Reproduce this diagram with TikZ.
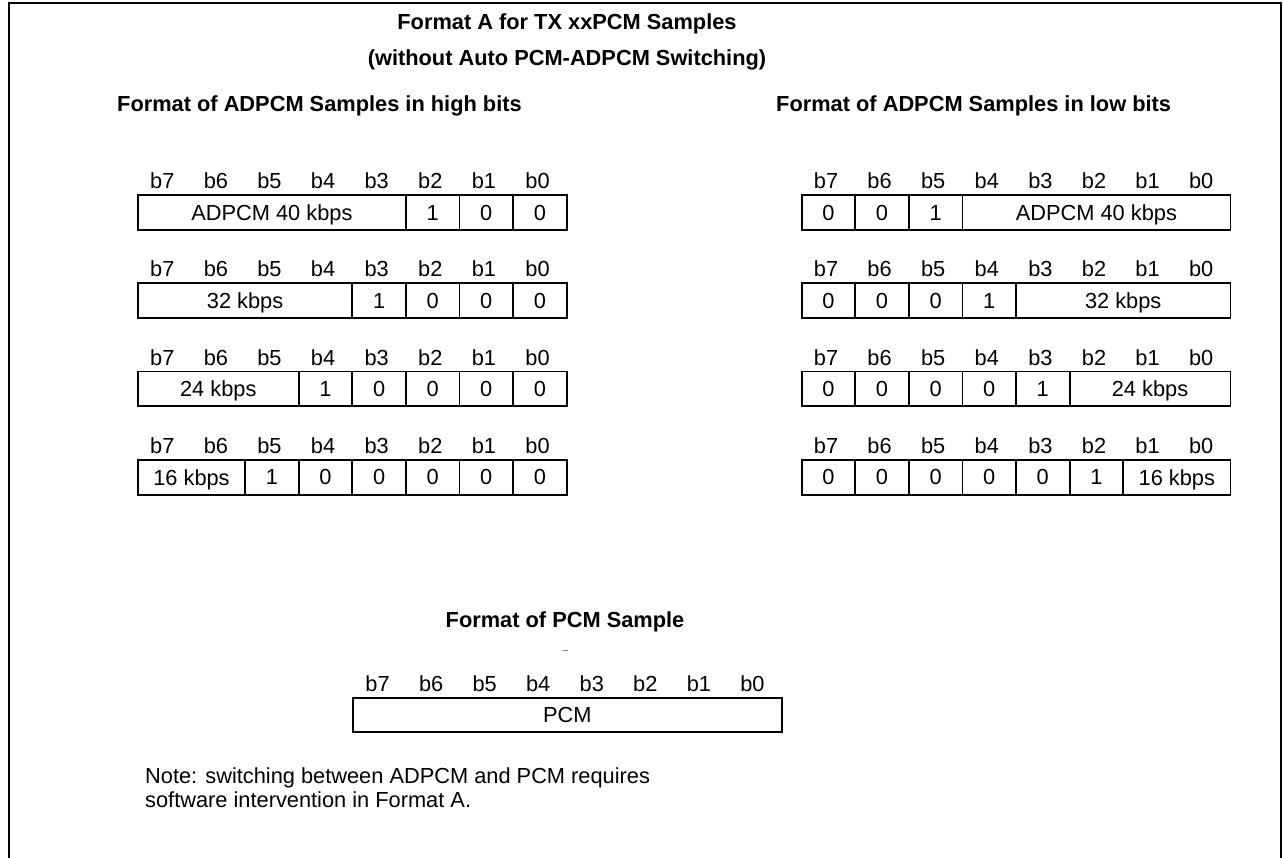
\documentclass[tikz,border=0pt]{standalone}
\usepackage{fontspec}
\setmainfont{Liberation Sans}
\begin{document}
\begin{tikzpicture}[x=1pt,y=-1pt,
  txt/.style={font=\fontsize{21.8}{26}\selectfont, inner sep=0pt},
  bold/.style={font=\fontsize{21.8}{26}\selectfont\bfseries, inner sep=0pt},
  cell/.style={draw, line width=1.8pt, inner sep=0pt, minimum height=34.7pt, anchor=north west, font=\fontsize{21.8}{26}\selectfont, text depth=0pt}
]
\useasboundingbox (0,0) rectangle (1283,858);
\draw[line width=2.5pt] (9,858) -- (9,3) -- (1281,3) -- (1281,858);

\node[bold, anchor=base] (t1) at (567,30) {Format A for TX xxPCM Samples};
\node[bold, anchor=base] (t2) at (567,66) {(without Auto PCM-ADPCM Switching)};
\node[bold, anchor=base west] (hh) at (117,112) {Format of ADPCM Samples in high bits};
\node[bold, anchor=base west] (hl) at (776,112) {Format of ADPCM Samples in low bits};

% bit labels
\foreach \r/\yt in {1/194.3,2/282.5,3/370.7,4/459} {
  \foreach \b [count=\i from 0] in {7,6,5,4,3,2,1,0} {
    \node[txt, anchor=base] (L\r b\b) at ({137+53.6*(\i+0.5)-1.5},{\yt-5.5}) {b\b};
    \node[txt, anchor=base] (R\r b\b) at ({800.7+53.6*(\i+0.5)-1.5},{\yt-5.5}) {b\b};
  }
}

% left table (high bits)
\node[cell, minimum width={5*53.6pt}] (L1a) at (137,194.3) {ADPCM 40 kbps};
\node[cell, minimum width=53.6pt] (L1b) at ({137+5*53.6},194.3) {1};
\node[cell, minimum width=53.6pt] (L1c) at ({137+6*53.6},194.3) {0};
\node[cell, minimum width=53.6pt] (L1d) at ({137+7*53.6},194.3) {0};

\node[cell, minimum width={4*53.6pt}] (L2a) at (137,282.5) {32 kbps};
\node[cell, minimum width=53.6pt] (L2b) at ({137+4*53.6},282.5) {1};
\node[cell, minimum width=53.6pt] (L2c) at ({137+5*53.6},282.5) {0};
\node[cell, minimum width=53.6pt] (L2d) at ({137+6*53.6},282.5) {0};
\node[cell, minimum width=53.6pt] (L2e) at ({137+7*53.6},282.5) {0};

\node[cell, minimum width={3*53.6pt}] (L3a) at (137,370.7) {24 kbps};
\node[cell, minimum width=53.6pt] (L3b) at ({137+3*53.6},370.7) {1};
\node[cell, minimum width=53.6pt] (L3c) at ({137+4*53.6},370.7) {0};
\node[cell, minimum width=53.6pt] (L3d) at ({137+5*53.6},370.7) {0};
\node[cell, minimum width=53.6pt] (L3e) at ({137+6*53.6},370.7) {0};
\node[cell, minimum width=53.6pt] (L3f) at ({137+7*53.6},370.7) {0};

\node[cell, minimum width={2*53.6pt}] (L4a) at (137,459) {16 kbps};
\node[cell, minimum width=53.6pt] (L4b) at ({137+2*53.6},459) {1};
\node[cell, minimum width=53.6pt] (L4c) at ({137+3*53.6},459) {0};
\node[cell, minimum width=53.6pt] (L4d) at ({137+4*53.6},459) {0};
\node[cell, minimum width=53.6pt] (L4e) at ({137+5*53.6},459) {0};
\node[cell, minimum width=53.6pt] (L4f) at ({137+6*53.6},459) {0};
\node[cell, minimum width=53.6pt] (L4g) at ({137+7*53.6},459) {0};

% right table (low bits)
\node[cell, minimum width=53.6pt] (R1a) at (800.7,194.3) {0};
\node[cell, minimum width=53.6pt] (R1b) at ({800.7+53.6},194.3) {0};
\node[cell, minimum width=53.6pt] (R1c) at ({800.7+2*53.6},194.3) {1};
\node[cell, minimum width={5*53.6pt}] (R1d) at ({800.7+3*53.6},194.3) {ADPCM 40 kbps};

\node[cell, minimum width=53.6pt] (R2a) at (800.7,282.5) {0};
\node[cell, minimum width=53.6pt] (R2b) at ({800.7+53.6},282.5) {0};
\node[cell, minimum width=53.6pt] (R2c) at ({800.7+2*53.6},282.5) {0};
\node[cell, minimum width=53.6pt] (R2d) at ({800.7+3*53.6},282.5) {1};
\node[cell, minimum width={4*53.6pt}] (R2e) at ({800.7+4*53.6},282.5) {32 kbps};

\node[cell, minimum width=53.6pt] (R3a) at (800.7,370.7) {0};
\node[cell, minimum width=53.6pt] (R3b) at ({800.7+53.6},370.7) {0};
\node[cell, minimum width=53.6pt] (R3c) at ({800.7+2*53.6},370.7) {0};
\node[cell, minimum width=53.6pt] (R3d) at ({800.7+3*53.6},370.7) {0};
\node[cell, minimum width=53.6pt] (R3e) at ({800.7+4*53.6},370.7) {1};
\node[cell, minimum width={3*53.6pt}] (R3f) at ({800.7+5*53.6},370.7) {24 kbps};

\node[cell, minimum width=53.6pt] (R4a) at (800.7,459) {0};
\node[cell, minimum width=53.6pt] (R4b) at ({800.7+53.6},459) {0};
\node[cell, minimum width=53.6pt] (R4c) at ({800.7+2*53.6},459) {0};
\node[cell, minimum width=53.6pt] (R4d) at ({800.7+3*53.6},459) {0};
\node[cell, minimum width=53.6pt] (R4e) at ({800.7+4*53.6},459) {0};
\node[cell, minimum width=53.6pt] (R4f) at ({800.7+5*53.6},459) {1};
\node[cell, minimum width={2*53.6pt}] (R4g) at ({800.7+6*53.6},459) {16 kbps};

% PCM
\node[bold, anchor=base] (hp) at (565,627) {Format of PCM Sample};
\coordinate (dA) at (563,650);
\coordinate (dB) at (568,650);
\draw[gray, line width=0.8pt] (dA) -- (dB);
\foreach \b [count=\i from 0] in {7,6,5,4,3,2,1,0} {
  \node[txt, anchor=base] (P b\b) at ({352.3+53.55*(\i+0.5)-1.5},691) {b\b};
}
\node[cell, minimum width={8*53.55pt}] (pcm) at (352.3,696.7) {PCM};

\node[txt, anchor=base west, align=left] (n1) at (145,783) {Note: switching between ADPCM and PCM requires};
\node[txt, anchor=base west, align=left] (n2) at (145,807) {software intervention in Format A.};
\end{tikzpicture}
\end{document}
